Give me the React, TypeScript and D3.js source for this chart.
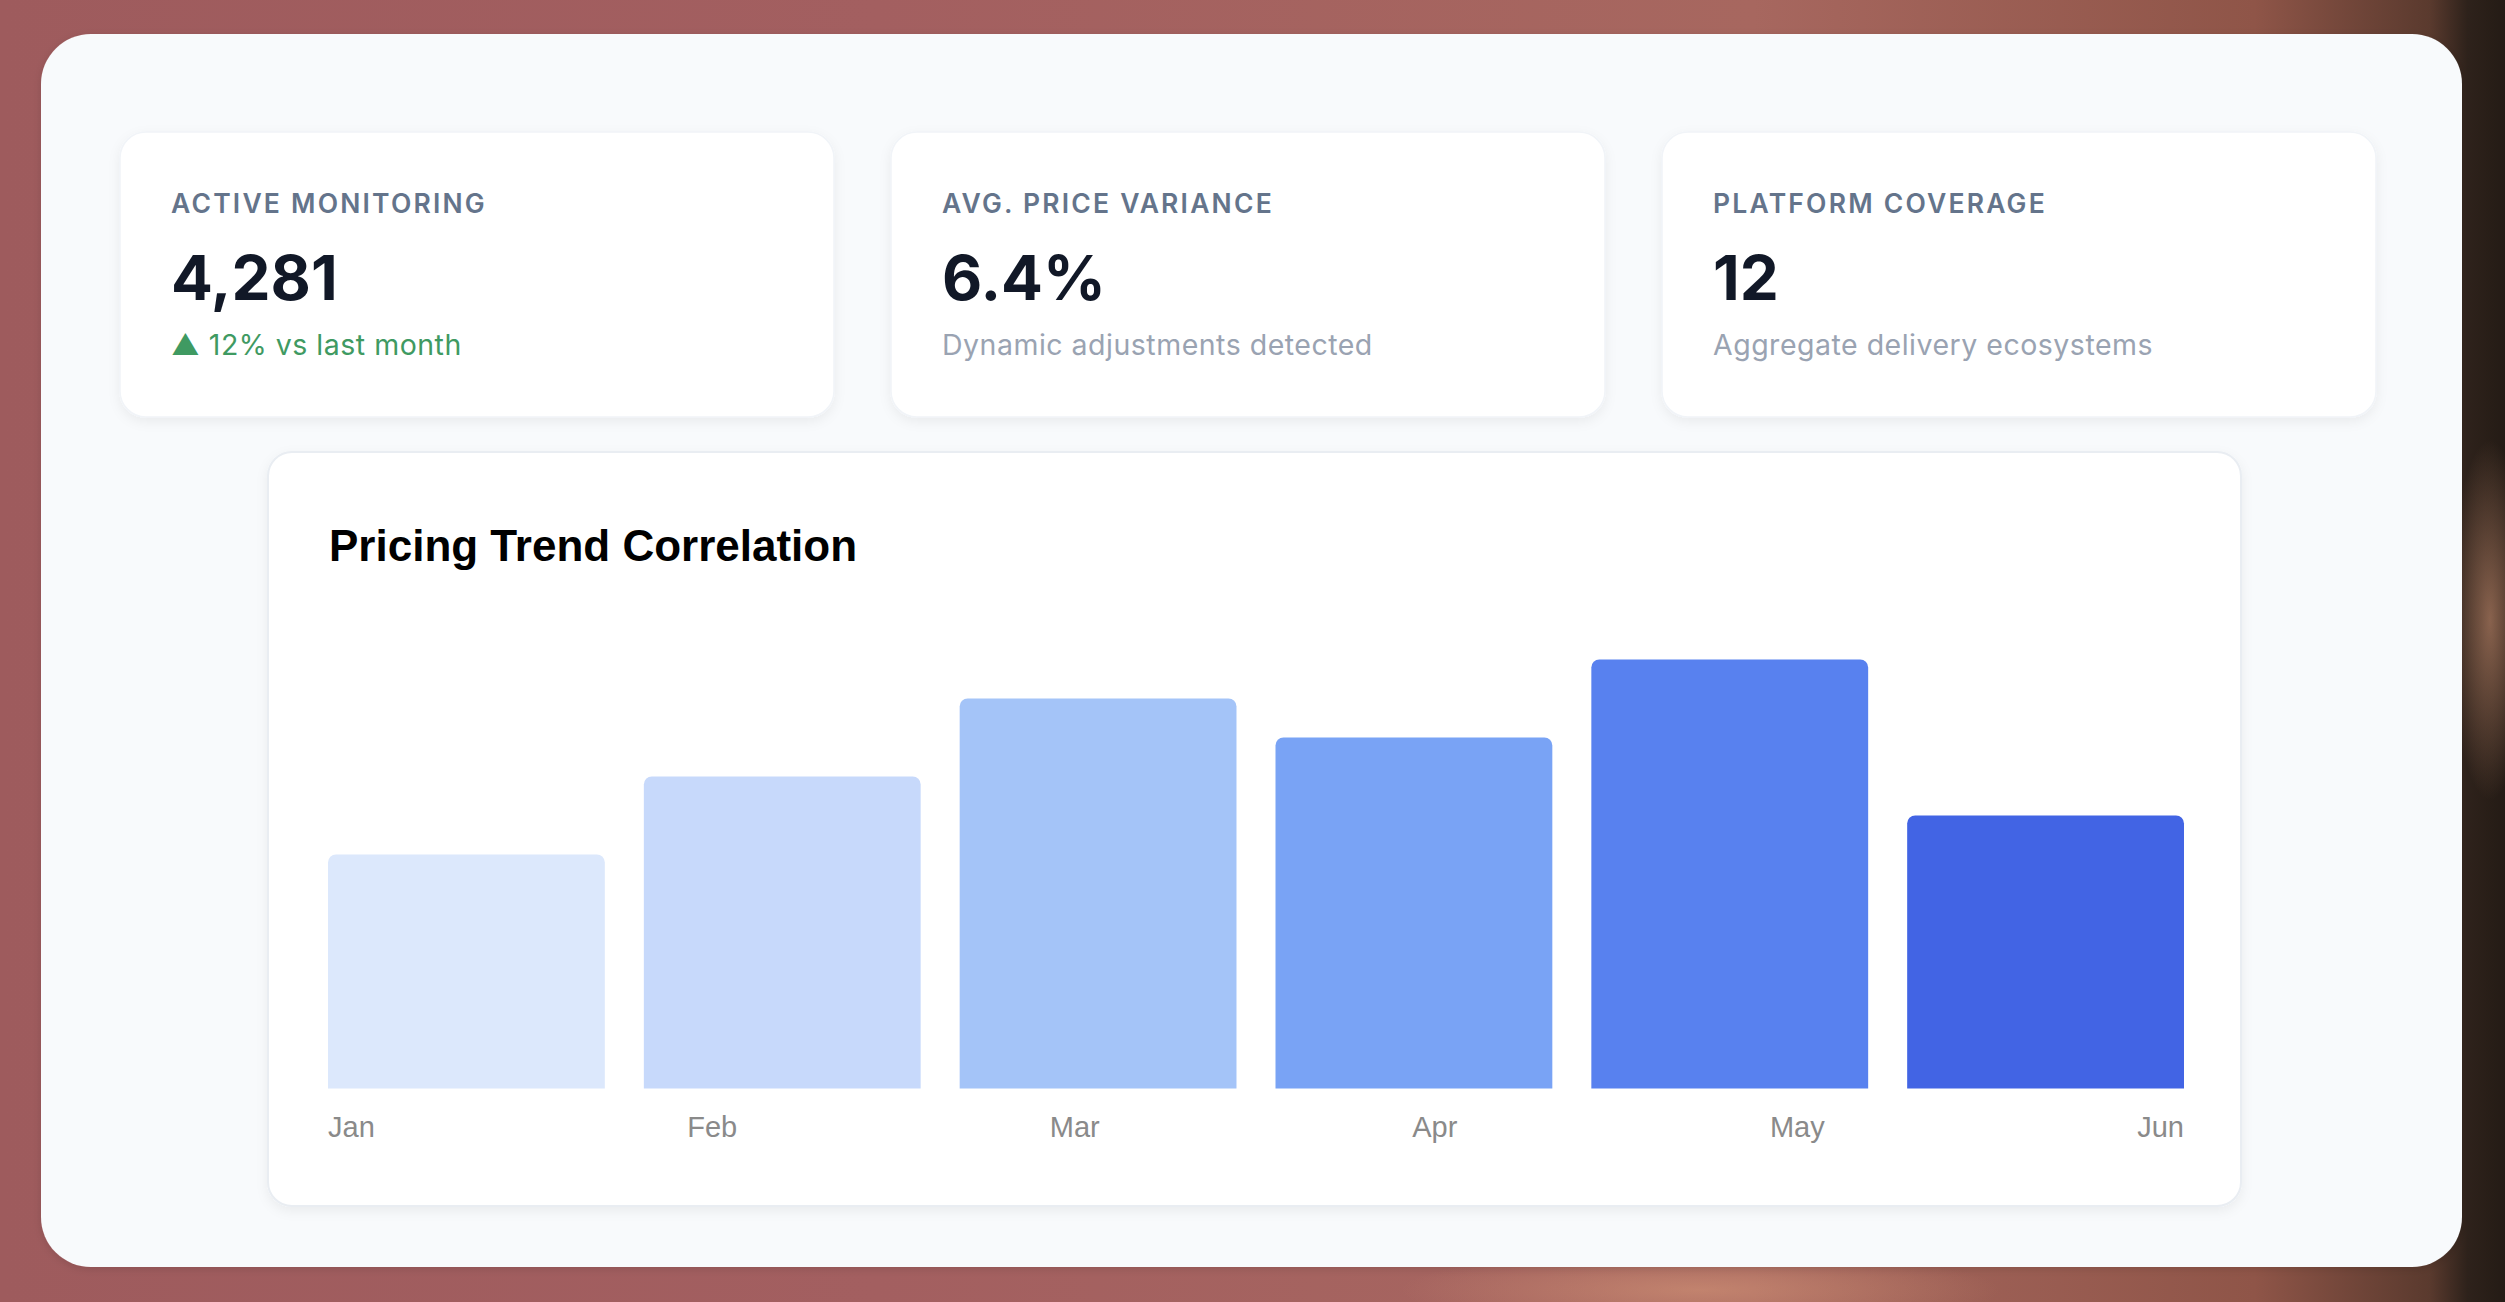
import React, { useMemo } from "react";
import * as d3 from "d3";

const W = 2505;
const H = 1302;

// KPI cards
const kpiLabels = ["ACTIVE MONITORING", "AVG. PRICE VARIANCE", "PLATFORM COVERAGE"];
const kpiValues = ["4,281", "6.4%", "12"];
const kpiNotes = ["▲ 12% vs last month", "Dynamic adjustments detected", "Aggregate delivery ecosystems"];
const kpiNoteColors = ["#3f9a62", "#9aa3b2", "#9aa3b2"];

// Bar chart
const chartTitle = "Pricing Trend Correlation";
const months = ["Jan", "Feb", "Mar", "Apr", "May", "Jun"];
const trendValues = [60, 80, 100, 90, 110, 70];
const barColors = ["#dce8fc", "#c7d9fb", "#a4c4f8", "#79a3f5", "#5881ef", "#4264e4"];

function measure(text: string, font: string): number {
  const c = document.createElement("canvas").getContext("2d");
  if (!c) return text.length * 15;
  c.font = font;
  return c.measureText(text).width;
}

function topRoundedBar(x: number, y: number, w: number, h: number, r: number): string {
  const rr = Math.min(r, h, w / 2);
  const p = d3.path();
  p.moveTo(x, y + h);
  p.lineTo(x, y + rr);
  p.arcTo(x, y, x + rr, y, rr);
  p.lineTo(x + w - rr, y);
  p.arcTo(x + w, y, x + w, y + rr, rr);
  p.lineTo(x + w, y + h);
  p.closePath();
  return p.toString();
}

export default function App() {
  // layout
  const panel = { x: 41, y: 34, w: 2421, h: 1233, r: 50 };
  const cardY = 132;
  const cardH = 285;
  const cardW = 714;
  const cardXs = [120, 891, 1662];
  const pad = 51;

  const chartCard = { x: 268, y: 452, w: 1973, h: 754, r: 24 };

  const x = d3.scaleBand<string>().domain(months).range([328, 2184]).paddingInner(0.1235).paddingOuter(0);
  const y = d3.scaleLinear().domain([0, 120]).range([1088.5, 620.5]);

  const labelFont = "29px 'Liberation Sans', Arial, sans-serif";
  const labelPos = useMemo(() => {
    const [r0, r1] = x.range();
    const widths = months.map((m) => measure(m, labelFont));
    const total = d3.sum(widths);
    const gap = (r1 - r0 - total) / (months.length - 1);
    const pos: number[] = [];
    let cur = r0;
    widths.forEach((w) => {
      pos.push(cur);
      cur += w + gap;
    });
    return pos;
  }, []);

  return (
    <svg
      width={W}
      height={H}
      viewBox={`0 0 ${W} ${H}`}
      style={{ position: "absolute", left: 0, top: 0, display: "block" }}
    >
      <defs>
        <linearGradient id="bg" x1="0" y1="0" x2="1" y2="0">
          <stop offset="0" stopColor="#9e5b5d" />
          <stop offset="0.35" stopColor="#a35f60" />
          <stop offset="0.7" stopColor="#a7675f" />
          <stop offset="0.9" stopColor="#8f5548" />
          <stop offset="0.97" stopColor="#5a3a2e" />
          <stop offset="0.985" stopColor="#2e221b" />
          <stop offset="1" stopColor="#241b15" />
        </linearGradient>
        <radialGradient id="glow1" cx="0.5" cy="0.5" r="0.5">
          <stop offset="0" stopColor="#d89a7a" stopOpacity="0.55" />
          <stop offset="1" stopColor="#d89a7a" stopOpacity="0" />
        </radialGradient>
        <filter id="cardShadow" x="-10%" y="-10%" width="120%" height="130%">
          <feDropShadow dx="0" dy="4" stdDeviation="6" floodColor="#0f172a" floodOpacity="0.06" />
        </filter>
        <filter id="panelShadow" x="-5%" y="-5%" width="110%" height="110%">
          <feDropShadow dx="0" dy="2" stdDeviation="4" floodColor="#000" floodOpacity="0.12" />
        </filter>
      </defs>

      <rect x={0} y={0} width={W} height={H} fill="url(#bg)" />
      <ellipse cx={2490} cy={620} rx={40} ry={180} fill="url(#glow1)" />
      <ellipse cx={1700} cy={1290} rx={300} ry={40} fill="url(#glow1)" />

      <rect
        x={panel.x}
        y={panel.y}
        width={panel.w}
        height={panel.h}
        rx={panel.r}
        fill="#f8fafc"
        filter="url(#panelShadow)"
      />

      {cardXs.map((cx, i) => (
        <g key={kpiLabels[i]}>
          <rect
            x={cx}
            y={cardY}
            width={cardW}
            height={cardH}
            rx={26}
            fill="#ffffff"
            stroke="#f1f4f8"
            strokeWidth={1.5}
            filter="url(#cardShadow)"
          />
          <text
            x={cx + pad}
            y={213}
            fontFamily="Inter, 'Noto Sans', sans-serif"
            fontWeight={600}
            fontSize={26.5}
            letterSpacing={2.2}
            fill="#64748b"
          >
            {kpiLabels[i]}
          </text>
          <text
            x={cx + pad}
            y={300}
            fontFamily="Inter, 'Noto Sans', sans-serif"
            fontWeight={700}
            fontSize={62}
            fill="#111827"
          >
            {kpiValues[i]}
          </text>
          <text
            x={cx + pad}
            y={355}
            fontFamily="Inter, 'Noto Sans', sans-serif"
            fontWeight={400}
            fontSize={28.5}
            letterSpacing={0.5}
            fill={kpiNoteColors[i]}
          >
            {kpiNotes[i]}
          </text>
        </g>
      ))}

      <rect
        x={chartCard.x}
        y={chartCard.y}
        width={chartCard.w}
        height={chartCard.h}
        rx={chartCard.r}
        fill="#ffffff"
        stroke="#e9edf2"
        strokeWidth={2}
        filter="url(#cardShadow)"
      />
      <text
        x={329}
        y={561}
        fontFamily="'Liberation Sans', Arial, sans-serif"
        fontWeight={700}
        fontSize={44}
        fill="#000000"
      >
        {chartTitle}
      </text>

      {months.map((m, i) => {
        const bx = x(m) as number;
        const by = y(trendValues[i]);
        const bh = y(0) - by;
        return <path key={m} d={topRoundedBar(bx, by, x.bandwidth(), bh, 8)} fill={barColors[i]} />;
      })}

      {months.map((m, i) => (
        <text
          key={"l" + m}
          x={labelPos[i]}
          y={1137}
          fontFamily="'Liberation Sans', Arial, sans-serif"
          fontSize={29}
          fill="#8a8a8a"
        >
          {m}
        </text>
      ))}
    </svg>
  );
}
